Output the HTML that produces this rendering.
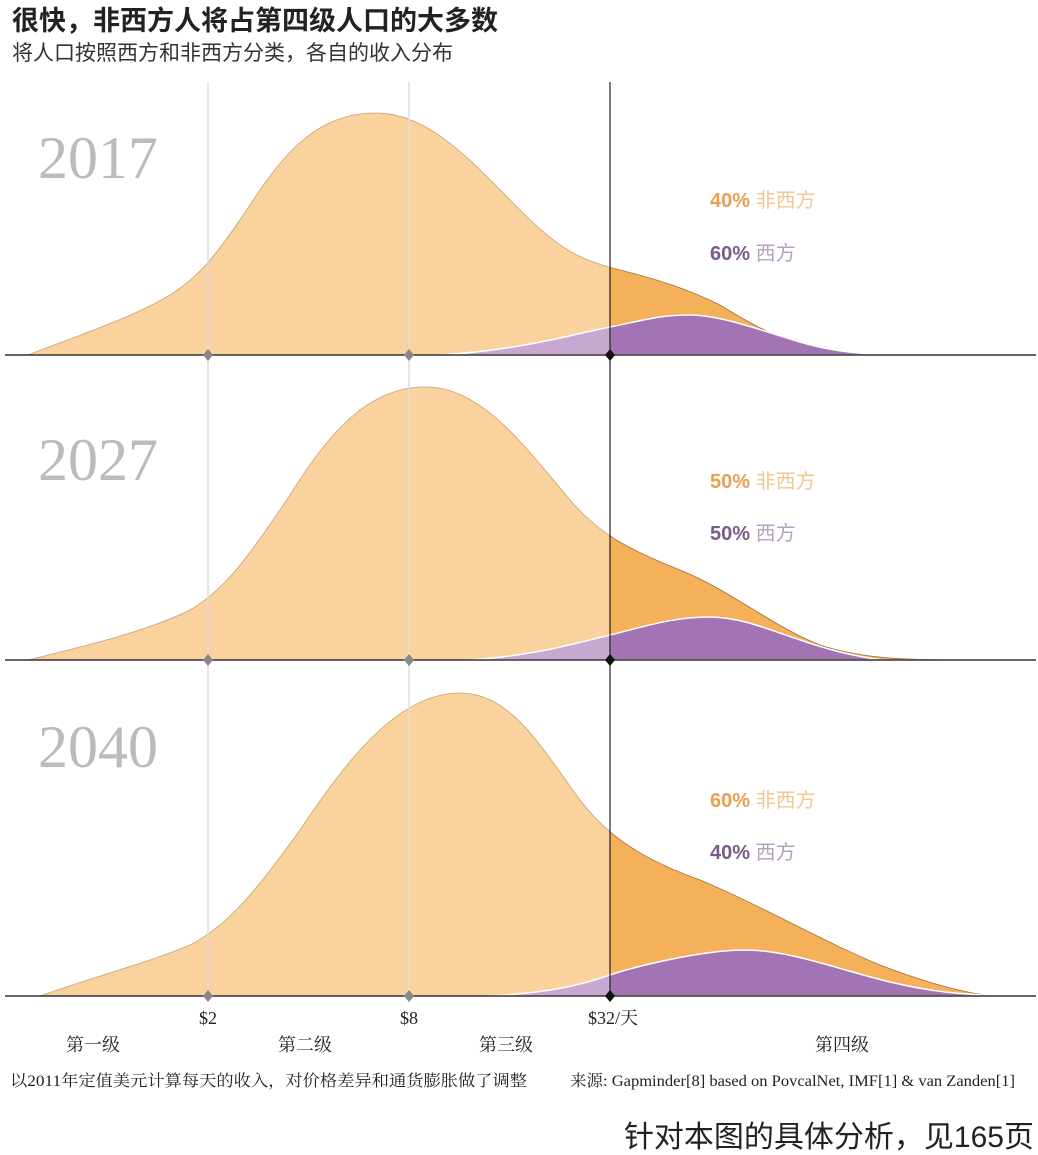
<!DOCTYPE html>
<html><head><meta charset="utf-8"><style>
body{margin:0;background:#fff;width:1038px;height:1155px;overflow:hidden}
svg{display:block}
.cj{font-family:"Liberation Sans","Noto Sans CJK SC",sans-serif}
.sr{font-family:"Liberation Serif","Noto Serif CJK SC",serif}
</style></head><body>
<svg width="1038" height="1155" viewBox="0 0 1038 1155">
<defs>
<clipPath id="L"><rect x="0" y="0" width="610" height="1155"/></clipPath>
<clipPath id="R"><rect x="610" y="0" width="500" height="1155"/></clipPath>
<path id="t1" d="M28,355 C80,335 130,318 165,298 C200,278 220,250 250,205 C285,150 320,113 375,113 C430,113 470,160 520,210 C560,250 580,260 620,270 C660,280 690,290 720,305 C760,330 790,345 840,352 C880,356 910,355 930,355Z"/>
<path id="p1" d="M440,355 C520,350 570,335 610,327 S660,315 690,315 S760,330 800,342 S880,355 910,355 Z"/>
<path id="t2" d="M28,660 C90,645 150,630 190,610 C225,590 250,555 290,495 C330,430 370,387 425,387 C480,387 520,440 570,500 C600,535 630,550 680,570 C730,590 770,625 820,645 C860,658 900,660 960,660Z"/>
<path id="p2" d="M470,660 C540,655 580,642 610,635 S670,617 710,617 S790,640 840,652 S900,660 930,660 Z"/>
<path id="t3" d="M40,996 C100,975 150,962 190,945 C230,925 260,885 300,830 C350,755 400,693 460,693 C510,693 540,745 580,800 C610,840 650,862 700,880 C760,905 820,940 880,965 C940,988 980,996 1000,996Z"/>
<path id="p3" d="M490,996 C560,992 590,982 610,975 S700,950 745,950 S840,970 890,982 S970,994 1000,996 Z"/>
</defs>
<text x="12" y="30" class="cj" font-size="27" font-weight="bold" fill="#222">很快，非西方人将占第四级人口的大多数</text>
<text x="12" y="60" class="cj" font-size="21" fill="#333">将人口按照西方和非西方分类，各自的收入分布</text>

<g>
<use href="#t1" fill="#f9d29e" stroke="#c9a070" stroke-width="0.8" clip-path="url(#L)"/>
<use href="#t1" fill="#f5b05a" stroke="#a07040" stroke-width="0.8" clip-path="url(#R)"/>
<use href="#p1" fill="#c8a8d0" stroke="#fff" stroke-width="1.5" clip-path="url(#L)"/>
<use href="#p1" fill="#a374b4" stroke="#fff" stroke-width="1.5" clip-path="url(#R)"/>
<use href="#t2" fill="#f9d29e" stroke="#c9a070" stroke-width="0.8" clip-path="url(#L)"/>
<use href="#t2" fill="#f5b05a" stroke="#a07040" stroke-width="0.8" clip-path="url(#R)"/>
<use href="#p2" fill="#c8a8d0" stroke="#fff" stroke-width="1.5" clip-path="url(#L)"/>
<use href="#p2" fill="#a374b4" stroke="#fff" stroke-width="1.5" clip-path="url(#R)"/>
<use href="#t3" fill="#f9d29e" stroke="#c9a070" stroke-width="0.8" clip-path="url(#L)"/>
<use href="#t3" fill="#f5b05a" stroke="#a07040" stroke-width="0.8" clip-path="url(#R)"/>
<use href="#p3" fill="#c8a8d0" stroke="#fff" stroke-width="1.5" clip-path="url(#L)"/>
<use href="#p3" fill="#a374b4" stroke="#fff" stroke-width="1.5" clip-path="url(#R)"/>
</g>

<line x1="208" y1="82" x2="208" y2="996" stroke="#ddd" stroke-width="1.5"/>
<line x1="409" y1="82" x2="409" y2="996" stroke="#ddd" stroke-width="1.5"/>
<line x1="610" y1="82" x2="610" y2="1000" stroke="#222" stroke-width="1.2"/>

<g stroke="#333" stroke-width="1.5">
<line x1="5" y1="355" x2="1036" y2="355"/>
<line x1="5" y1="660" x2="1036" y2="660"/>
<line x1="5" y1="996" x2="1036" y2="996"/>
</g>
<g fill="#888">
<path d="M208,349 l5,6 l-5,6 l-5,-6z"/><path d="M409,349 l5,6 l-5,6 l-5,-6z"/>
<path d="M208,654 l5,6 l-5,6 l-5,-6z"/><path d="M409,654 l5,6 l-5,6 l-5,-6z"/>
<path d="M208,990 l5,6 l-5,6 l-5,-6z"/><path d="M409,990 l5,6 l-5,6 l-5,-6z"/>
</g>
<g fill="#111">
<path d="M610,349 l5,6 l-5,6 l-5,-6z"/><path d="M610,654 l5,6 l-5,6 l-5,-6z"/><path d="M610,990 l5,6 l-5,6 l-5,-6z"/>
</g>

<g class="sr" font-size="60" fill="#bbb">
<text x="38" y="178">2017</text>
<text x="38" y="480">2027</text>
<text x="38" y="767">2040</text>
</g>
<g class="cj" font-size="20">
<text x="710" y="207"><tspan fill="#e9a050" font-weight="bold">40%</tspan><tspan fill="#f2c890"> 非西方</tspan></text>
<text x="710" y="260"><tspan fill="#7a5a8a" font-weight="bold">60%</tspan><tspan fill="#b8a0c0"> 西方</tspan></text>
<text x="710" y="488"><tspan fill="#e9a050" font-weight="bold">50%</tspan><tspan fill="#f2c890"> 非西方</tspan></text>
<text x="710" y="540"><tspan fill="#7a5a8a" font-weight="bold">50%</tspan><tspan fill="#b8a0c0"> 西方</tspan></text>
<text x="710" y="807"><tspan fill="#e9a050" font-weight="bold">60%</tspan><tspan fill="#f2c890"> 非西方</tspan></text>
<text x="710" y="859"><tspan fill="#7a5a8a" font-weight="bold">40%</tspan><tspan fill="#b8a0c0"> 西方</tspan></text>
</g>

<g class="sr" font-size="18" fill="#222" text-anchor="middle">
<text x="208" y="1024">$2</text>
<text x="409" y="1024">$8</text>
<text x="613" y="1024">$32/天</text>
<text x="93" y="1051">第一级</text>
<text x="305" y="1051">第二级</text>
<text x="506" y="1051">第三级</text>
<text x="842" y="1051">第四级</text>
</g>
<text x="10" y="1086" class="sr" font-size="16" fill="#222" textLength="517" lengthAdjust="spacingAndGlyphs">以2011年定值美元计算每天的收入，对价格差异和通货膨胀做了调整</text>
<text x="570" y="1086" class="sr" font-size="16" fill="#222" textLength="445" lengthAdjust="spacingAndGlyphs">来源: Gapminder[8] based on PovcalNet, IMF[1] &amp; van Zanden[1]</text>
<text x="1034" y="1147" class="cj" font-size="30" fill="#222" text-anchor="end">针对本图的具体分析，见165页</text>
</svg>
</body></html>
